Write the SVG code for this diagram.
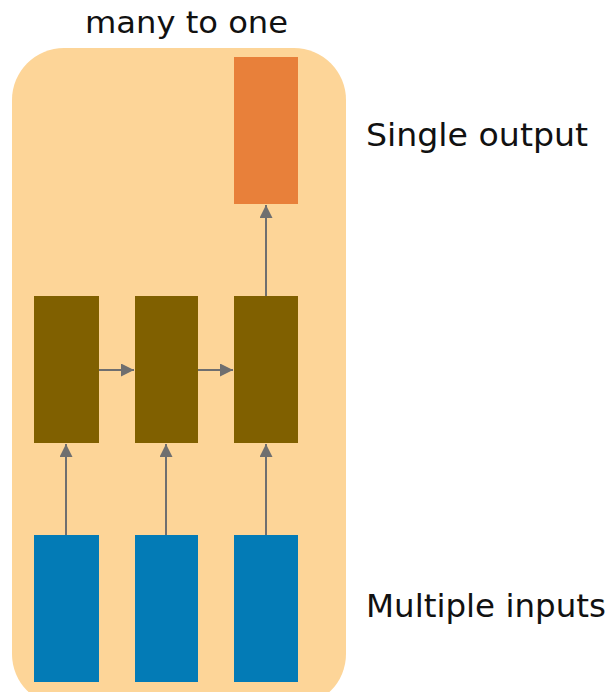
<svg xmlns="http://www.w3.org/2000/svg" width="611" height="692" viewBox="0 0 611 692">
<style>
text{font-family:"DejaVu Sans","Liberation Sans",sans-serif;fill:#111}
.lbl{font-size:32px}
.ttl{font-size:30px}
.c{stroke:#6f6f6f;stroke-width:2;fill:none;marker-end:url(#ah)}
.rnn{fill:#806000}
.inp{fill:#037bb6}
.out{fill:#e8803a}
</style>
<defs>
<marker id="ah" viewBox="0 0 10 10" refX="10" refY="5" markerWidth="6.5" markerHeight="6.5" markerUnits="strokeWidth" orient="auto">
<path d="M0,0 L10,5 L0,10 z" fill="#6f6f6f"/>
</marker>
</defs>
<rect id="background" x="12" y="48" width="334" height="658" rx="52" ry="52" fill="#fdd598"/>
<text class="ttl" x="85" y="33" textLength="203" lengthAdjust="spacingAndGlyphs">many to one</text>
<g id="output"><rect class="out" x="234" y="57" width="64" height="147"/></g>
<g id="h1"><rect class="rnn" x="34" y="296" width="65" height="147"/></g>
<g id="h2"><rect class="rnn" x="135" y="296" width="63" height="147"/></g>
<g id="h3"><rect class="rnn" x="234" y="296" width="64" height="147"/></g>
<g id="x1"><rect class="inp" x="34" y="535" width="65" height="147"/></g>
<g id="x2"><rect class="inp" x="135" y="535" width="63" height="147"/></g>
<g id="x3"><rect class="inp" x="234" y="535" width="64" height="147"/></g>
<g id="connectors">
<line class="c" x1="66" y1="535" x2="66" y2="444"/>
<line class="c" x1="166" y1="535" x2="166" y2="444"/>
<line class="c" x1="266" y1="535" x2="266" y2="444"/>
<line class="c" x1="99" y1="370" x2="134" y2="370"/>
<line class="c" x1="198" y1="370" x2="233" y2="370"/>
<line class="c" x1="266" y1="296" x2="266" y2="205"/>
</g>
<text class="lbl" x="366" y="146" textLength="222" lengthAdjust="spacingAndGlyphs">Single output</text>
<text class="lbl" x="366" y="617" textLength="240" lengthAdjust="spacingAndGlyphs">Multiple inputs</text>
</svg>
